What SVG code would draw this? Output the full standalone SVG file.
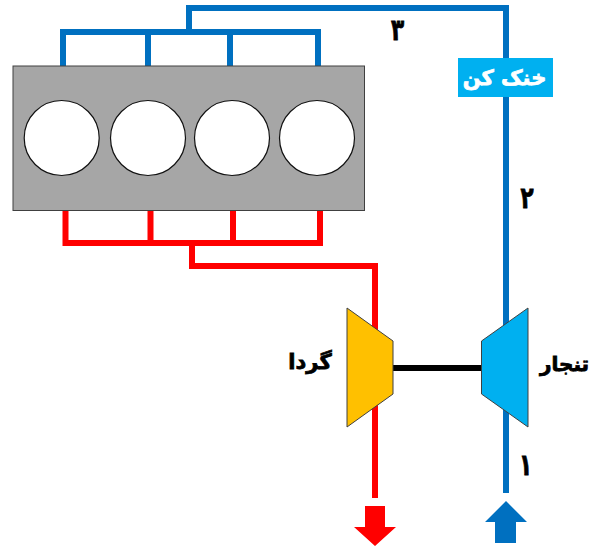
<svg xmlns="http://www.w3.org/2000/svg" width="597" height="546" viewBox="0 0 597 546">
<style>
.b{fill:none;stroke:#0070c0;stroke-width:6}
.r{fill:none;stroke:#ff0000;stroke-width:6}
.t{font-family:"DejaVu Sans",sans-serif;font-weight:bold;fill:#000;stroke:#000;stroke-width:0.8;text-anchor:middle}
.c{fill:#fff;stroke:#111;stroke-width:1.2}
.e{stroke:#404040;stroke-width:1}
</style>
<rect width="597" height="546" fill="#fff"/>
<g id="connectors">
<path class="b" d="M63 67V32H318V67M148 32V67M230 32V67M189 32V8H506V493"/>
<path class="r" d="M65.500 209V243H320V209M150.500 209V243M233 208V243M192 243V266H375V498"/>
<path d="M390 368H484" fill="none" stroke="#000" stroke-width="6"/>
</g>
<g id="engine">
<rect x="13" y="66" width="351.500" height="144.500" fill="#a6a6a6" stroke="#404040" stroke-width="1"/>
<circle class="c" cx="61.700" cy="138" r="37.500"/>
<circle class="c" cx="148" cy="138" r="37.500"/>
<circle class="c" cx="232" cy="138" r="37.500"/>
<circle class="c" cx="317" cy="138" r="37.500"/>
</g>
<g id="cooler">
<rect x="458" y="58" width="95" height="39" fill="#00b0f0"/>
<text class="t" x="504.500" y="84.500" font-size="21" style="fill:#fff;stroke:#fff">خنک کن</text>
</g>
<g id="turbine">
<path class="e" d="M347 308L393 341V394L347 427Z" fill="#ffc000"/>
<text class="t" x="310" y="369" font-size="21">گردا</text>
</g>
<g id="compressor">
<path class="e" d="M528 308L481.500 341V394L528 427Z" fill="#00b0f0"/>
<text class="t" x="564.500" y="371" font-size="20">تنجار</text>
</g>
<g id="label-1"><text class="t" transform="translate(525.500 475) scale(.72 1)" font-size="30">۱</text></g>
<g id="label-2"><text class="t" transform="translate(527 208) scale(.72 1)" font-size="30">۲</text></g>
<g id="label-3"><text class="t" transform="translate(397.500 40) scale(.72 1)" font-size="30">۳</text></g>
<g id="arrow-out"><path d="M365 506H385V527H396L375 546L354 527H365Z" fill="#ff0000"/></g>
<g id="arrow-in"><path d="M506 501L527 522H516V543H495V522H485Z" fill="#0070c0"/></g>
</svg>
